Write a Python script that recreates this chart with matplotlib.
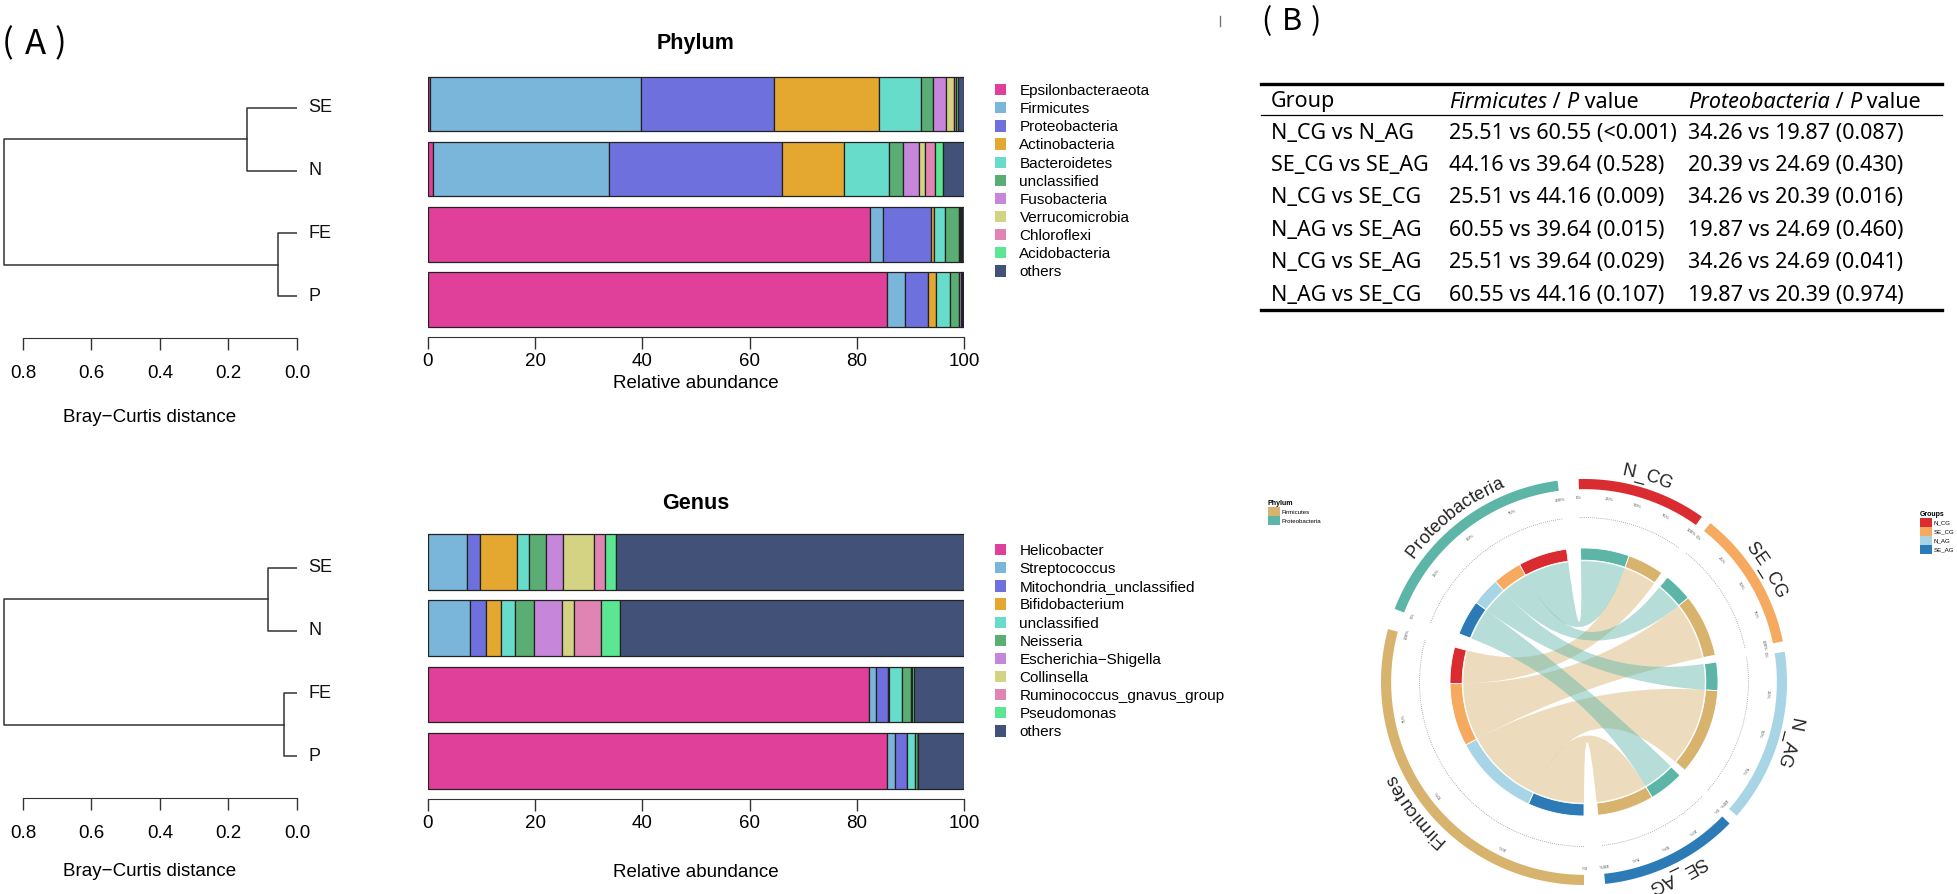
import numpy as np
import matplotlib
matplotlib.use('Agg')
import matplotlib.pyplot as plt
from matplotlib.patches import Patch, Polygon, PathPatch
from matplotlib.path import Path
from matplotlib.lines import Line2D
from matplotlib.font_manager import FontProperties

# ---------------- data ----------------
samples = ['SE', 'N', 'FE', 'P']

phylum_names = ['Epsilonbacteraeota', 'Firmicutes', 'Proteobacteria', 'Actinobacteria',
                'Bacteroidetes', 'unclassified', 'Fusobacteria', 'Verrucomicrobia',
                'Chloroflexi', 'Acidobacteria', 'others']
phylum_SE = [0.4, 39.4, 24.8, 19.5, 7.9, 2.2, 2.5, 1.5, 0.3, 0.3, 1.2]
phylum_N = [0.9, 32.8, 32.3, 11.7, 8.3, 2.6, 3.0, 1.2, 1.8, 1.4, 4.0]
phylum_FE = [82.4, 2.5, 8.9, 0.6, 2.0, 2.6, 0.3, 0.1, 0.1, 0.1, 0.4]
phylum_P = [85.7, 3.2, 4.3, 1.5, 2.7, 1.7, 0.4, 0.1, 0.1, 0.1, 0.2]

genus_names = ['Helicobacter', 'Streptococcus', 'Mitochondria_unclassified', 'Bifidobacterium',
               'unclassified', 'Neisseria', 'Escherichia\u2212Shigella', 'Collinsella',
               'Ruminococcus_gnavus_group', 'Pseudomonas', 'others']
genus_SE = [0.0, 7.3, 2.45, 6.8, 2.2, 3.2, 3.3, 5.8, 1.9, 2.2, 64.85]
genus_N = [0.0, 7.8, 3.0, 2.9, 2.6, 3.4, 5.3, 2.2, 5.0, 3.7, 64.1]
genus_FE = [82.3, 1.2, 2.4, 0.1, 2.5, 1.7, 0.1, 0.0, 0.0, 0.4, 9.3]
genus_P = [85.6, 1.5, 2.2, 0.0, 1.5, 0.6, 0.0, 0.0, 0.0, 0.0, 8.6]

# Bray-Curtis clustering: root, (SE,N) merge, (FE,P) merge
dend_phylum = [0.855, 0.146, 0.055]
dend_genus = [0.855, 0.085, 0.038]

chord_groups = ['N_CG', 'SE_CG', 'N_AG', 'SE_AG']
firmicutes = [25.51, 44.16, 60.55, 39.64]
proteobacteria = [34.26, 20.39, 19.87, 24.69]

tbl_header = ['Group', 'Firmicutes', 'Proteobacteria']
tbl_group = ['N_CG vs N_AG', 'SE_CG vs SE_AG', 'N_CG vs SE_CG',
             'N_AG vs SE_AG', 'N_CG vs SE_AG', 'N_AG vs SE_CG']
tbl_firm = ['25.51 vs 60.55 (<0.001)', '44.16 vs 39.64 (0.528)', '25.51 vs 44.16 (0.009)',
            '60.55 vs 39.64 (0.015)', '25.51 vs 39.64 (0.029)', '60.55 vs 44.16 (0.107)']
tbl_prot = ['34.26 vs 19.87 (0.087)', '20.39 vs 24.69 (0.430)', '34.26 vs 20.39 (0.016)',
            '19.87 vs 24.69 (0.460)', '34.26 vs 24.69 (0.041)', '19.87 vs 20.39 (0.974)']

# ---------------- style ----------------
pal = ['#E0409A', '#7AB5DA', '#6E71DD', '#E4A72F', '#68DCCB', '#5BAE73',
       '#C686D9', '#D3D383', '#E085B3', '#5AE693', '#425178']
c_firm, c_prot = '#D7B36E', '#5DB5A8'
c_groups = ['#D92B30', '#F5AA60', '#A8D5E6', '#2C7BB6']

plt.rcParams['font.family'] = ['Liberation Sans', 'DejaVu Sans']
W, H = 1958, 894
fig = plt.figure(figsize=(W / 100, H / 100), dpi=100)


def px_axes(x0, y0, x1, y1):
    return fig.add_axes([x0 / W, 1 - y1 / H, (x1 - x0) / W, (y1 - y0) / H])


def fig_text(x, y, s, **kw):
    return fig.text(x / W, 1 - y / H, s, **kw)


def dendro(ax, heights, xlabel_y):
    root, h_top, h_bot = heights
    c = '#333333'
    ax.plot([0, h_top, h_top, 0], [3, 3, 2, 2], color=c, lw=1.1)
    ax.plot([0, h_bot, h_bot, 0], [1, 1, 0, 0], color=c, lw=1.1)
    ax.plot([h_top, root, root, h_bot], [2.5, 2.5, 0.5, 0.5], color=c, lw=1.1)
    for i, s in enumerate(samples):
        ax.annotate(s, (0, 3 - i), xytext=(8, 0), textcoords='offset points',
                    va='center', ha='left', fontsize=13, color='#111')
    ax.set_xlim(0.867, 0)
    ax.set_ylim(-0.67, 3.606)
    for sp in ['top', 'left', 'right']:
        ax.spines[sp].set_visible(False)
    ax.spines['bottom'].set_bounds(0, 0.8)
    ax.spines['bottom'].set_color('#333')
    ax.set_xticks([0.8, 0.6, 0.4, 0.2, 0.0])
    ax.set_xticklabels(['0.8', '0.6', '0.4', '0.2', '0.0'])
    ax.set_yticks([])
    ax.tick_params(axis='x', length=8.5, width=1, pad=11, labelsize=13.5, color='#333')
    ax.set_xlabel('Bray\u2212Curtis distance', fontsize=13.5)
    ax.xaxis.set_label_coords(0.505, xlabel_y)
    ax.xaxis.label.set_va('center')
    ax.patch.set_visible(False)


def stacked(ax, rows, title, title_y, xlabel_y):
    ypos = np.array([3, 2, 1, 0])
    data = np.array(rows)
    lefts = np.zeros(len(rows))
    for j in range(data.shape[1]):
        ax.barh(ypos, data[:, j], left=lefts, height=0.84, color=pal[j],
                edgecolor='#222222', linewidth=0.9)
        lefts += data[:, j]
    ax.set_xlim(0, 100)
    ax.set_ylim(-0.575, 3.52)
    for sp in ['top', 'left', 'right']:
        ax.spines[sp].set_visible(False)
    ax.spines['bottom'].set_color('#333')
    ax.set_yticks([])
    ax.set_xticks([0, 20, 40, 60, 80, 100])
    ax.tick_params(axis='x', length=8.5, width=1, pad=3, labelsize=13.5, color='#333')
    ax.set_xlabel('Relative abundance', fontsize=13.5)
    ax.xaxis.set_label_coords(0.5, xlabel_y)
    ax.xaxis.label.set_va('center')
    ax.text(0.5, title_y, title, transform=ax.transAxes, ha='center', va='center',
            fontsize=15.5, fontweight='bold')
    ax.patch.set_visible(False)


def side_legend(ax, names, top_px):
    handles = [Patch(facecolor=c, edgecolor='none') for c in pal]
    ax.legend(handles, names, loc='upper left', bbox_to_anchor=(995 / W, 1 - top_px / H),
              bbox_transform=fig.transFigure, frameon=False, fontsize=11,
              handlelength=0.75, handleheight=0.75, handletextpad=0.85,
              labelspacing=0.27, borderaxespad=0, borderpad=0)


# ---------------- panel A ----------------
ax_d1 = px_axes(0, 70, 297, 338)
dendro(ax_d1, dend_phylum, -0.295)
ax_d2 = px_axes(0, 530, 297, 798)
dendro(ax_d2, dend_genus, -0.275)

ax_b1 = px_axes(428, 70, 964, 337)
stacked(ax_b1, [phylum_SE, phylum_N, phylum_FE, phylum_P], 'Phylum', 1.101, -0.175)
side_legend(ax_b1, phylum_names, 84)

ax_b2 = px_axes(428, 527.5, 964, 799)
stacked(ax_b2, [genus_SE, genus_N, genus_FE, genus_P], 'Genus', 1.087, -0.27)
side_legend(ax_b2, genus_names, 544)

# panel letters
cjk = ['Noto Sans CJK SC', 'DejaVu Sans']
for ch, x in zip('(A)', [8, 35, 60]):
    fig_text(x, 44, ch, fontsize=25, family=cjk, va='center', ha='center')
for ch, x in zip('(B)', [1266, 1292, 1316]):
    fig_text(x, 22, ch, fontsize=22, family=cjk, va='center', ha='center')
fig.add_artist(Line2D([1220 / W] * 2, [1 - 16 / H, 1 - 26 / H], transform=fig.transFigure,
                      color='#777', lw=1))

# ---------------- table ----------------
rend = fig.canvas.get_renderer()
tfam = 'Noto Sans'
tsize = 15.5


def text_width(s, style):
    fp = FontProperties(family=tfam, size=tsize, style=style)
    w1 = rend.get_text_width_height_descent('X' + s + 'X', fp, ismath=False)[0]
    w0 = rend.get_text_width_height_descent('XX', fp, ismath=False)[0]
    return w1 - w0


def rich(x, y, pieces):
    for s, style in pieces:
        fig_text(x, y, s, family=tfam, fontsize=tsize, style=style, va='center', ha='left')
        x += text_width(s, style)


col_x = [1271, 1449, 1688]
fig_text(col_x[0], 102, tbl_header[0], family=tfam, fontsize=tsize, va='center')
rich(col_x[1], 102, [(tbl_header[1], 'italic'), (' / ', 'normal'), ('P', 'italic'), (' value', 'normal')])
rich(col_x[2], 102, [(tbl_header[2], 'italic'), (' / ', 'normal'), ('P', 'italic'), (' value', 'normal')])
for i in range(len(tbl_group)):
    y = 133 + 32.4 * i
    for x, col in zip(col_x, [tbl_group, tbl_firm, tbl_prot]):
        fig_text(x, y, col[i], family=tfam, fontsize=tsize, va='center')
for y, lw in [(84, 2.4), (115, 0.9), (310, 2.4)]:
    fig.add_artist(Line2D([1261 / W, 1942 / W], [1 - y / H] * 2, transform=fig.transFigure,
                          color='black', lw=lw))

# ---------------- chord diagram ----------------
CX, CY, RPX = 1584, 682, 203
ax_c = px_axes(CX - 1.3 * RPX, CY - 1.25 * RPX, CX + 1.3 * RPX, CY + 1.25 * RPX)
ax_c.set_xlim(-1.3, 1.3)
ax_c.set_ylim(-1.25, 1.25)
ax_c.axis('off')


def pt(theta, r):
    t = np.radians(theta)
    return np.array([r * np.sin(t), r * np.cos(t)])


def arc_pts(t1, t2, r, n=80):
    t = np.radians(np.linspace(t1, t2, n))
    return np.column_stack([r * np.sin(t), r * np.cos(t)])


def ring(t1, t2, r0, r1, color, ec='none', lw=0):
    poly = np.vstack([arc_pts(t1, t2, r1), arc_pts(t2, t1, r0)])
    ax_c.add_patch(Polygon(poly, closed=True, facecolor=color, edgecolor=ec, lw=lw))


def ribbon(a1, a2, b1, b2, r, color):
    A = arc_pts(a1, a2, r)
    B = arc_pts(b1, b2, r)
    verts = [A[0]] + list(A[1:]) + [(0, 0), B[0]] + list(B[1:]) + [(0, 0), A[0], A[0]]
    codes = ([Path.MOVETO] + [Path.LINETO] * (len(A) - 1) + [Path.CURVE3, Path.CURVE3]
             + [Path.LINETO] * (len(B) - 1) + [Path.CURVE3, Path.CURVE3, Path.CLOSEPOLY])
    ax_c.add_patch(PathPatch(Path(verts, codes), facecolor=color, edgecolor='none', alpha=0.45))


group_tot = [f + p for f, p in zip(firmicutes, proteobacteria)]
sec_names = chord_groups + ['Firmicutes', 'Proteobacteria']
sec_vals = group_tot + [sum(firmicutes), sum(proteobacteria)]
sec_cols = c_groups + [c_firm, c_prot]
gaps = [3, 3, 3, 6, 6, 6]
unit = (360 - sum(gaps)) / sum(sec_vals)
starts, ends = [], []
t = -1.5
for v, g in zip(sec_vals, gaps):
    starts.append(t)
    ends.append(t + v * unit)
    t += v * unit + g

R_OUT0, R_OUT1, R_IN0, R_IN1, R_LINK = 0.95, 1.0, 0.6, 0.66, 0.595

# outer ring, dotted axis and percent ticks
for s, e, c in zip(starts, ends, sec_cols):
    ring(s, e, R_OUT0, R_OUT1, c)
    d = arc_pts(s, e, 0.81)
    ax_c.plot(d[:, 0], d[:, 1], color='#999999', lw=0.6, ls=(0, (1, 1.5)))
    for f in [0, 0.25, 0.5, 0.75, 1.0]:
        th = s + f * (e - s)
        p = pt(th, 0.905)
        ax_c.text(p[0], p[1], '%d%%' % round(f * 100), fontsize=3.2, color='#555',
                  rotation=-th, ha='center', va='center', rotation_mode='anchor')

# inner ring segments and links
firm_seg, prot_seg = {}, {}
# phylum sectors: groups in reverse order clockwise
for k, (vals, store) in enumerate([(firmicutes, firm_seg), (proteobacteria, prot_seg)]):
    t = starts[4 + k]
    for gi in [3, 2, 1, 0]:
        w = vals[gi] * unit
        ring(t, t + w, R_IN0, R_IN1, c_groups[gi], ec='white', lw=0.6)
        store[gi] = (t, t + w)
        t += w

for gi in range(4):
    s = starts[gi]
    wp = proteobacteria[gi] * unit
    wf = firmicutes[gi] * unit
    ring(s, s + wp, R_IN0, R_IN1, c_prot, ec='white', lw=0.6)
    ring(s + wp, s + wp + wf, R_IN0, R_IN1, c_firm, ec='white', lw=0.6)
    b1, b2 = firm_seg[gi]
    ribbon(s + wp, s + wp + wf, b1, b2, R_LINK, c_firm)
for gi in range(4):
    s = starts[gi]
    wp = proteobacteria[gi] * unit
    b1, b2 = prot_seg[gi]
    ribbon(s, s + wp, b1, b2, R_LINK, c_prot)

# curved sector labels
lab_fp = FontProperties(family='Liberation Sans', size=13)
r_lab = 1.035
for name, s, e in zip(sec_names, starts, ends):
    widths = [rend.get_text_width_height_descent(ch, lab_fp, ismath=False)[0] for ch in name]
    rpx = r_lab * RPX
    total = np.degrees(sum(widths) / rpx)
    th = (s + e) / 2 - total / 2
    for ch, w in zip(name, widths):
        tc = th + np.degrees(w / 2 / rpx)
        p = pt(tc, r_lab)
        ax_c.text(p[0], p[1], ch, fontproperties=lab_fp, rotation=-tc, ha='center',
                  va='baseline', rotation_mode='anchor', color='#222')
        th += np.degrees(w / rpx)

# small legends
leg_kw = dict(loc='upper left', frameon=False, fontsize=4.4,
              title_fontproperties={'size': 5.0, 'weight': 'bold'},
              handlelength=1.95, handleheight=1.75, handletextpad=0.3, labelspacing=0.08,
              borderpad=0, borderaxespad=0, alignment='left')
fig.legend([Patch(facecolor=c) for c in [c_firm, c_prot]], ['Firmicutes', 'Proteobacteria'],
           title='Phylum', bbox_to_anchor=(1268 / W, 1 - 500 / H), **leg_kw)
fig.legend([Patch(facecolor=c) for c in c_groups], chord_groups,
           title='Groups', bbox_to_anchor=(1920 / W, 1 - 511 / H), **leg_kw)

fig.savefig('out.png', dpi=100)
